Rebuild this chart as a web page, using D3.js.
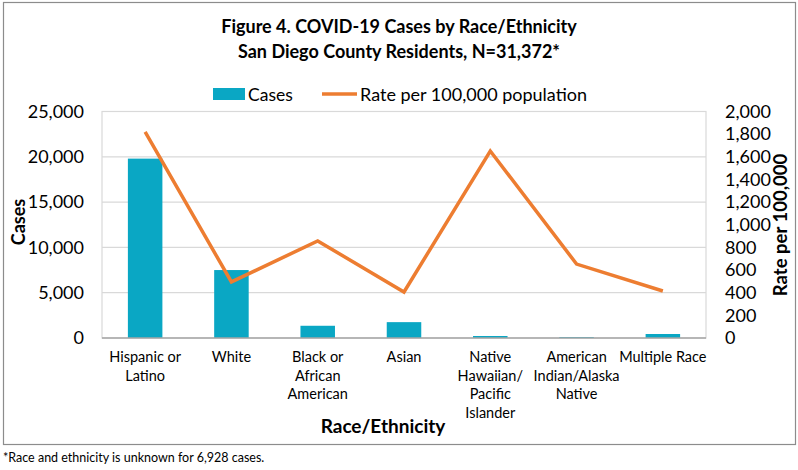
<!DOCTYPE html>
<html>
<head>
<meta charset="utf-8">
<script src="https://cdn.jsdelivr.net/npm/d3@7"></script>
<style>
  body { margin: 0; background: #fff; }
  svg { display: block; font-family: Lato, "Open Sans", sans-serif; }
</style>
</head>
<body>
<div id="chart"></div>
<script>
const categories = [
  'Hispanic or Latino', 'White', 'Black or African American', 'Asian',
  'Native Hawaiian/ Pacific Islander', 'American Indian/Alaska Native', 'Multiple Race'
];
const categoryLines = [
  ['Hispanic or', 'Latino'],
  ['White'],
  ['Black or', 'African', 'American'],
  ['Asian'],
  ['Native', 'Hawaiian/', 'Pacific', 'Islander'],
  ['American', 'Indian/Alaska', 'Native'],
  ['Multiple Race']
];
const cases = [19800, 7500, 1350, 1750, 220, 100, 440];
const rates = [1820, 495, 857, 406, 1651, 653, 415];
const casesTicks = [0, 5000, 10000, 15000, 20000, 25000];
const rateTicks = [0, 200, 400, 600, 800, 1000, 1200, 1400, 1600, 1800, 2000];

const width = 798;
const height = 470;
const plot = { left: 102, right: 706, top: 111.5, bottom: 338 };
const barColor = '#0AA7C4';
const lineColor = '#ED7D31';

const svg = d3.select('#chart')
  .append('svg')
  .attr('width', width)
  .attr('height', height);

svg.append('rect')
  .attr('width', width).attr('height', height)
  .attr('fill', '#fff');

// outer frame
svg.append('rect')
  .attr('x', 3.5).attr('y', 2.5)
  .attr('width', 792).attr('height', 442)
  .attr('fill', 'none')
  .attr('stroke', '#8c8c8c')
  .attr('stroke-width', 1.2);

const x = d3.scaleBand()
  .domain(categories)
  .range([plot.left, plot.right])
  .paddingInner(0.6)
  .paddingOuter(0.3);

const yCases = d3.scaleLinear()
  .domain([0, 25000])
  .range([plot.bottom, plot.top]);

const yRate = d3.scaleLinear()
  .domain([0, 2000])
  .range([plot.bottom, plot.top]);

// plot area border
svg.append('rect')
  .attr('x', plot.left).attr('y', plot.top)
  .attr('width', plot.right - plot.left)
  .attr('height', plot.bottom - plot.top)
  .attr('fill', 'none')
  .attr('stroke', '#d9d9d9')
  .attr('stroke-width', 1.2);

// gridlines
svg.append('g')
  .selectAll('line')
  .data(casesTicks.slice(1, -1))
  .join('line')
  .attr('x1', plot.left).attr('x2', plot.right)
  .attr('y1', d => yCases(d)).attr('y2', d => yCases(d))
  .attr('stroke', '#d9d9d9')
  .attr('stroke-width', 1.2);

// bars
svg.append('g')
  .selectAll('rect')
  .data(categories)
  .join('rect')
  .attr('x', d => x(d))
  .attr('width', x.bandwidth())
  .attr('y', (d, i) => yCases(cases[i]))
  .attr('height', (d, i) => plot.bottom - yCases(cases[i]))
  .attr('fill', barColor);

// bottom axis line
svg.append('line')
  .attr('x1', plot.left).attr('x2', plot.right)
  .attr('y1', plot.bottom).attr('y2', plot.bottom)
  .attr('stroke', '#a6a6a6')
  .attr('stroke-width', 1.5);

// rate line
const line = d3.line()
  .x((d, i) => x(categories[i]) + x.bandwidth() / 2)
  .y(d => yRate(d));

svg.append('path')
  .datum(rates)
  .attr('d', line)
  .attr('fill', 'none')
  .attr('stroke', lineColor)
  .attr('stroke-width', 3.5)
  .attr('stroke-linejoin', 'miter');

// left axis
const leftAxis = svg.append('g')
  .attr('transform', `translate(${plot.left - 18},0)`)
  .call(d3.axisLeft(yCases).tickValues(casesTicks).tickFormat(d3.format(',')).tickSize(0).tickPadding(0));
leftAxis.select('.domain').remove();
leftAxis.selectAll('text')
  .attr('font-family', 'Lato, sans-serif')
  .attr('font-size', 18)
  .attr('fill', '#000');

// right axis
const rightAxis = svg.append('g')
  .attr('transform', `translate(${plot.right + 19},0)`)
  .call(d3.axisRight(yRate).tickValues(rateTicks).tickFormat(d3.format(',')).tickSize(0).tickPadding(0));
rightAxis.select('.domain').remove();
rightAxis.selectAll('text')
  .attr('font-family', 'Lato, sans-serif')
  .attr('font-size', 18)
  .attr('fill', '#000');

// category labels
const catLabels = svg.append('g')
  .selectAll('text')
  .data(categories)
  .join('text')
  .attr('text-anchor', 'middle')
  .attr('font-size', 14.5)
  .attr('fill', '#000')
  .attr('transform', d => `translate(${x(d) + x.bandwidth() / 2},362)`);
catLabels.selectAll('tspan')
  .data((d, i) => categoryLines[i])
  .join('tspan')
  .attr('x', 0)
  .attr('y', (d, j) => j * 18.5)
  .text(d => d);

// axis titles
svg.append('text')
  .attr('x', 383).attr('y', 433)
  .attr('text-anchor', 'middle')
  .attr('font-size', 19)
  .attr('font-weight', 'bold')
  .text('Race/Ethnicity');

svg.append('text')
  .attr('transform', 'translate(25,222) rotate(-90)')
  .attr('text-anchor', 'middle')
  .attr('font-size', 18)
  .attr('font-weight', 'bold')
  .text('Cases');

svg.append('text')
  .attr('transform', 'translate(787,225) rotate(-90)')
  .attr('text-anchor', 'middle')
  .attr('font-size', 18.5)
  .attr('font-weight', 'bold')
  .text('Rate per 100,000');

// title
svg.append('text')
  .attr('x', 399).attr('y', 33)
  .attr('text-anchor', 'middle')
  .attr('font-size', 18)
  .attr('font-weight', 'bold')
  .text('Figure 4. COVID-19 Cases by Race/Ethnicity');

svg.append('text')
  .attr('x', 399).attr('y', 58)
  .attr('text-anchor', 'middle')
  .attr('font-size', 18)
  .attr('font-weight', 'bold')
  .text('San Diego County Residents, N=31,372*');

// legend
const legend = svg.append('g');
legend.append('rect')
  .attr('x', 213).attr('y', 88)
  .attr('width', 32).attr('height', 12)
  .attr('fill', barColor);
legend.append('text')
  .attr('x', 248).attr('y', 101)
  .attr('font-size', 17.5)
  .text('Cases');
legend.append('line')
  .attr('x1', 322).attr('x2', 357)
  .attr('y1', 94).attr('y2', 94)
  .attr('stroke', lineColor)
  .attr('stroke-width', 3.5);
legend.append('text')
  .attr('x', 360).attr('y', 101)
  .attr('font-size', 18)
  .text('Rate per 100,000 population');

// footnote
svg.append('text')
  .attr('x', 3).attr('y', 462)
  .attr('font-size', 12.5)
  .text('*Race and ethnicity is unknown for 6,928 cases.');
</script>
</body>
</html>
